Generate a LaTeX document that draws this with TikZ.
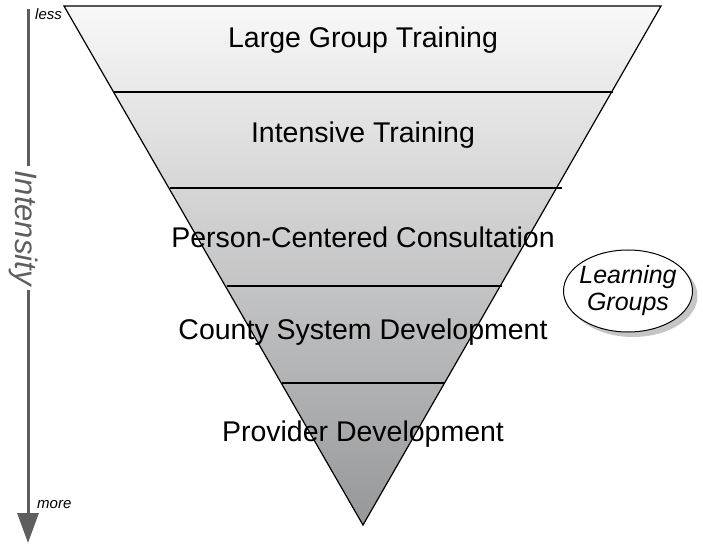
\documentclass[tikz,border=0pt]{standalone}
\usepackage{fontspec}
\setmainfont{Liberation Sans}
\usetikzlibrary{arrows.meta,shadows,shapes.geometric}
\definecolor{axisgray}{HTML}{5E5E5E}
\definecolor{toptone}{HTML}{F8F8F8}
\definecolor{bottone}{HTML}{969799}
\tikzset{
  lvl/.style={font=\fontsize{28.5}{32}\selectfont, text=black, inner sep=0pt},
  sep/.style={line width=1.1pt, black},
  tag/.style={font=\fontsize{15}{17}\selectfont\itshape, inner sep=0pt},
}
\begin{document}
\begin{tikzpicture}[x=1pt,y=1pt]
\useasboundingbox (0,0) rectangle (703,544);
% funnel
\coordinate (tl) at (64,538);
\coordinate (tr) at (661,538);
\coordinate (ap) at (363,19);
\shade[top color=toptone, bottom color=bottone] (tl) -- (tr) -- (ap) -- cycle;
\draw[line width=1.2pt, line join=miter] (tl) -- (tr) -- (ap) -- cycle;
% separators
\coordinate (l1a) at (113,452); \coordinate (l1b) at (613,452);
\coordinate (l2a) at (170,356); \coordinate (l2b) at (562,356);
\coordinate (l3a) at (227,258); \coordinate (l3b) at (502,258);
\coordinate (l4a) at (282,161); \coordinate (l4b) at (445,161);
\draw[sep] (l1a) -- (l1b);
\draw[sep] (l2a) -- (l2b);
\draw[sep] (l3a) -- (l3b);
\draw[sep] (l4a) -- (l4b);
% labels
\node[lvl] (t1) at (363,504) {Large Group Training};
\node[lvl] (t2) at (363,409) {Intensive Training};
\node[lvl] (t3) at (363,307) {Person-Centered Consultation};
\node[lvl] (t4) at (363,212) {County System Development};
\node[lvl] (t5) at (363,110) {Provider Development};
% intensity axis
\coordinate (ax0) at (28,535);
\node[font=\fontsize{31}{34}\selectfont\itshape, text=axisgray, rotate=-90, inner sep=4pt] (int) at (24,316) {Intensity};
\coordinate (ax1) at (28,1);
\draw[axisgray, line width=3pt] (ax0) -- (ax0 |- int.west);
\draw[axisgray, line width=3pt, -{Triangle[length=30pt,width=21pt]}] (ax1 |- int.east) -- (ax1);
\node[tag, anchor=west] (less) at (35,530) {less};
\node[tag, anchor=west] (more) at (37,39) {more};
% learning groups
\node[draw, line width=1pt, ellipse, fill=white, minimum width=129pt, minimum height=82pt, inner sep=-10pt,
      drop shadow={shadow xshift=5pt, shadow yshift=-5pt, fill=black!45},
      font=\fontsize{25}{27}\selectfont\itshape, align=center] (lg) at (628,253) {Learning\\Groups};
\end{tikzpicture}
\end{document}
